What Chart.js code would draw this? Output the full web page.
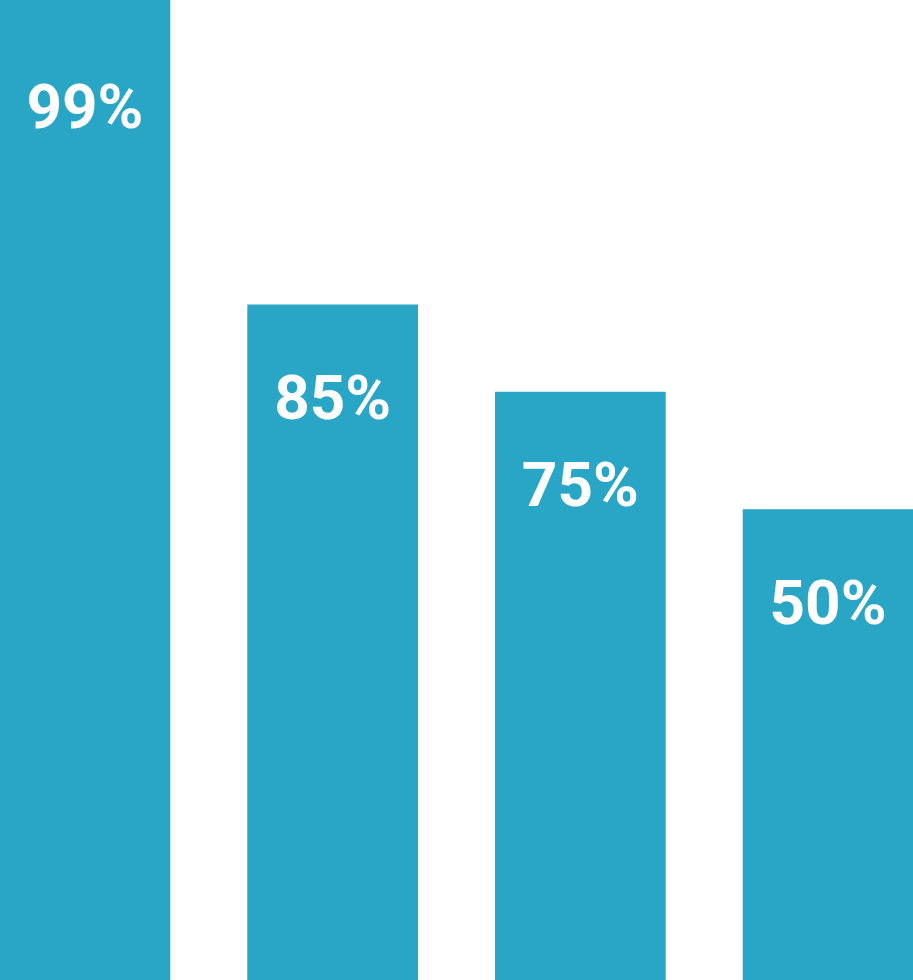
<!DOCTYPE html>
<html>
<head>
<meta charset="utf-8">
<script src="https://cdn.jsdelivr.net/npm/chart.js@4.4.0/dist/chart.umd.min.js"></script>
<style>
  html, body { margin: 0; padding: 0; background: #ffffff; }
  #wrap { width: 913px; height: 980px; position: relative; }
</style>
</head>
<body>
<div id="wrap"><canvas id="c" width="913" height="980"></canvas></div>
<script>
// Categories (positions 0..3), bar heights (share of axis, 0-100),
// and the percentage labels printed on the bars.
const categories = [0, 1, 2, 3];
const barValues = [100, 68.9, 60.0, 48.0];
const valueLabels = ['99%', '85%', '75%', '50%'];

const barColor = '#29A5C5';

const labelPlugin = {
  id: 'barLabels',
  afterDatasetsDraw(chart) {
    const ctx = chart.ctx;
    const meta = chart.getDatasetMeta(0);
    const area = chart.chartArea;
    ctx.save();
    ctx.fillStyle = '#ffffff';
    ctx.font = 'bold 62px Roboto';
    ctx.textAlign = 'center';
    ctx.textBaseline = 'alphabetic';
    meta.data.forEach((bar, i) => {
      const top = Math.max(bar.y, area.top + 14);
      ctx.fillText(valueLabels[i], bar.x, top + 114);
    });
    ctx.restore();
  }
};

new Chart(document.getElementById('c'), {
  type: 'bar',
  data: {
    datasets: [{
      data: categories.map((c, i) => ({ x: c, y: barValues[i] })),
      backgroundColor: barColor,
      borderWidth: 0,
      barThickness: 170
    }]
  },
  options: {
    responsive: false,
    animation: false,
    devicePixelRatio: 1,
    layout: { padding: 0 },
    plugins: { legend: { display: false }, tooltip: { enabled: false } },
    scales: {
      x: {
        type: 'linear',
        min: -0.343,
        max: 3.343,
        offset: false,
        display: false,
        grid: { display: false }
      },
      y: {
        min: 0,
        max: 100,
        display: false,
        grid: { display: false }
      }
    }
  },
  plugins: [labelPlugin]
});
</script>
</body>
</html>
